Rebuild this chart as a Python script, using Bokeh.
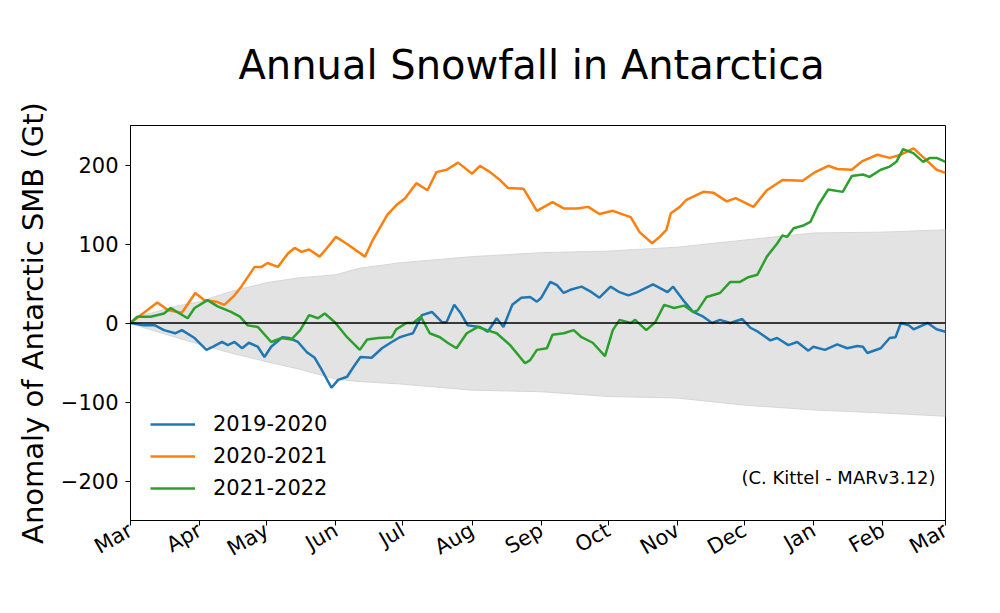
import math
from bokeh.plotting import figure
from bokeh.models import Range1d, FixedTicker, Span, Label, Legend, LegendItem
from bokeh.embed import file_html
from bokeh.resources import INLINE

# ---- data (days since 1 March, anomaly in Gt) ----
month_ticks = [0, 31, 61, 92, 122, 153, 184, 214, 245, 275, 306, 337, 365]
month_labels = ["Mar", "Apr", "May", "Jun", "Jul", "Aug", "Sep", "Oct", "Nov", "Dec", "Jan", "Feb", "Mar"]
y_ticks = [-200, -100, 0, 100, 200]
y_labels = ["\u2212200", "\u2212100", "0", "100", "200"]

band_days = [0, 6, 20, 31, 45, 61, 75, 92, 102, 120, 153, 184, 214, 245, 275, 306, 337, 365]
band_upper = [0, 10, 21, 27, 40, 51, 57, 61, 69, 76, 84, 89, 91, 96, 105, 114, 115, 118]
band_lower = [0, -6, -18, -27, -38, -49, -58, -71, -74, -77, -85, -87, -93, -95, -104, -110, -114, -118]

d_1920 = [0, 6, 11, 15, 20, 23, 28.7, 34, 37, 41, 43.6, 46.6, 50, 53, 57, 60, 63, 68, 71, 75, 79, 82.5,
          85.6, 90, 93, 97, 100, 103, 108, 112.6, 117, 120.6, 124, 126.5, 130.5, 135, 139.5, 141.5, 145,
          148, 151, 156.5, 160, 164, 167, 171, 175, 179, 182, 184, 188, 191, 194, 197, 202, 206.5, 210,
          215, 219, 223, 227, 234, 240.5, 243, 247.5, 252, 256.5, 260.5, 264, 268.6, 274, 277.6, 281,
          286.5, 289.6, 294.6, 298.6, 303.6, 305.8, 311, 316.5, 321, 325.5, 328, 330, 336, 340, 342.6,
          345, 348.6, 350.7, 357, 361, 365]
v_1920 = [0, -3, -3, -9, -13, -9, -19, -34, -30, -24, -28, -24, -32, -25, -30, -43, -30, -18, -19, -24,
          -37, -44, -59, -82, -72, -68, -55, -43, -44, -32, -24, -18, -15, -13, 10, 14, 1, 1, 23, 12, -3,
          -5, -11, 6, -5, 23, 32, 33, 27, 32, 52, 48, 38, 42, 46, 39, 32, 46, 39, 35, 39, 49, 39, 46, 29,
          14, 8, 0, 4, 0, 5, -6, -11, -22, -19, -28, -24, -35, -30, -34, -27, -32, -29, -30, -38, -32,
          -19, -18, 0, -3, -8, 0, -8, -11]

d_2021 = [0, 6, 12, 17, 23, 29, 33, 38.5, 42, 46.6, 49.6, 55.6, 58.7, 61.4, 66, 70.5, 73.5, 76.6, 80,
          84.7, 88, 92, 97, 105, 108.5, 115, 119, 123, 128, 133, 137, 141.6, 146.7, 153, 156.5, 161,
          165.5, 169, 176, 182, 189, 194, 200, 205, 210, 216, 224, 228, 233.6, 237, 240, 242, 246, 249,
          256.5, 261, 267, 271, 279, 285, 292, 301, 306, 312.5, 316.5, 323, 327.8, 334.5, 340, 345,
          350.7, 355, 361, 365]
v_2021 = [0, 13, 26, 16, 13, 38, 29, 27, 23, 35, 46, 71, 71, 76, 71, 88, 95, 90, 93, 84, 95, 109, 100,
          84, 105, 137, 149, 158, 177, 168, 191, 194, 203, 189, 199, 191, 181, 171, 170, 142, 153, 145,
          145, 147, 138, 142, 134, 115, 101, 109, 118, 139, 147, 156, 166, 165, 154, 158, 147, 168, 181,
          180, 190, 199, 195, 194, 205, 213, 209, 213, 221, 210, 194, 190]

d_2122 = [0, 3, 9, 15, 18, 22, 25.6, 28.7, 34.5, 39, 45, 49, 52.5, 57, 63, 67.7, 72, 76, 80, 84, 87,
          91.5, 97, 102.7, 106, 111, 117, 119, 123.6, 126.6, 130, 134, 138.6, 142, 146, 150.6, 155.6,
          159.6, 164, 170, 176.7, 179, 182, 186.5, 189, 194, 198.5, 202, 207, 212.5, 216, 219, 224, 226,
          231, 235, 239, 243.5, 248, 252, 254, 258, 264, 268.6, 273, 276.7, 280.7, 285, 289.7, 292, 294,
          297, 301, 304.5, 308, 312.5, 319, 323, 328, 331, 336, 340, 343, 346, 350.6, 355, 358, 361, 365]
v_2122 = [0, 8, 8, 12, 19, 12, 6, 19, 29, 21, 14, 8, -3, -5, -24, -19, -21, -9, 10, 6, 12, 1, -18, -34,
          -21, -19, -18, -8, 0, 0, 8, -13, -18, -25, -32, -13, -5, -9, -13, -28, -51, -47, -34, -32, -15,
          -13, -9, -18, -25, -42, -9, 4, 0, 4, -9, 1, 23, 19, 22, 14, 16, 33, 38, 52, 52, 58, 61, 84, 101,
          111, 109, 120, 123, 128, 149, 169, 166, 186, 188, 185, 194, 198, 204, 220, 215, 204, 209, 209,
          204]

series_names = ["2019-2020", "2020-2021", "2021-2022"]
series_colors = ["#1f77b4", "#ff7f0e", "#2ca02c"]

FONT = "DejaVu Sans"

p = figure(width=984, height=597, output_backend="svg", toolbar_location=None,
           x_range=Range1d(0, 365), y_range=Range1d(-250, 250),
           min_border_left=130, min_border_right=39, min_border_top=125, min_border_bottom=77)

p.title.text = "Annual Snowfall in Antarctica"
p.title.align = "left"
p.title.offset = 108
p.title.text_font = FONT
p.title.text_font_size = "40px"
p.title.text_font_style = "normal"
p.title.text_color = "black"
p.title.standoff = 75

p.xgrid.visible = False
p.ygrid.visible = False
p.outline_line_color = "black"
p.outline_line_width = 1
p.background_fill_color = "white"
p.border_fill_color = "white"

p.varea(x=band_days, y1=band_lower, y2=band_upper, fill_color="#e3e3e3", fill_alpha=1.0)
p.line(band_days, band_upper, line_color="#d6d6d6", line_width=1)
p.line(band_days, band_lower, line_color="#d6d6d6", line_width=1)

p.add_layout(Span(location=0, dimension="width", line_color="black", line_width=1.6))

renderers = []
for d, v, c in zip([d_1920, d_2021, d_2122], [v_1920, v_2021, v_2122], series_colors):
    r = p.line(d, v, line_color=c, line_width=2.5)
    renderers.append(r)

legend = Legend(items=[LegendItem(label=n, renderers=[r]) for n, r in zip(series_names, renderers)],
                location="bottom_left")
legend.label_text_font = FONT
legend.label_text_font_size = "21px"
legend.label_text_color = "black"
legend.glyph_width = 45
legend.glyph_height = 24
legend.label_height = 24
legend.spacing = 8
legend.label_standoff = 18
legend.margin = 10
legend.padding = 10
legend.border_line_alpha = 0
legend.background_fill_alpha = 0
p.add_layout(legend)

p.add_layout(Label(x=360.5, y=-196, text="(C. Kittel - MARv3.12)", text_align="right",
                   text_baseline="middle", text_font=FONT, text_font_size="18px",
                   text_color="black"))

# axes
p.xaxis.ticker = FixedTicker(ticks=month_ticks)
p.xaxis.major_label_overrides = {t: l for t, l in zip(month_ticks, month_labels)}
p.xaxis.major_label_orientation = math.pi / 6
p.yaxis.ticker = FixedTicker(ticks=y_ticks)
p.yaxis.major_label_overrides = {t: l for t, l in zip(y_ticks, y_labels)}
for ax in (p.xaxis, p.yaxis):
    ax.axis_line_color = "black"
    ax.major_tick_line_color = "black"
    ax.major_tick_in = 0
    ax.major_tick_out = 5
    ax.minor_tick_line_color = None
    ax.major_label_text_font = FONT
    ax.major_label_text_font_size = "21px"
    ax.major_label_text_color = "black"
    ax.major_label_standoff = 7
p.xaxis.major_label_standoff = 3

p.yaxis.axis_label = "Anomaly of Antarctic SMB (Gt)"
p.yaxis.axis_label_text_font = FONT
p.yaxis.axis_label_text_font_size = "29px"
p.yaxis.axis_label_text_font_style = "normal"
p.yaxis.axis_label_standoff = 8
p.yaxis.axis_label_text_color = "black"

open("out.html", "w").write(file_html(p, INLINE))
